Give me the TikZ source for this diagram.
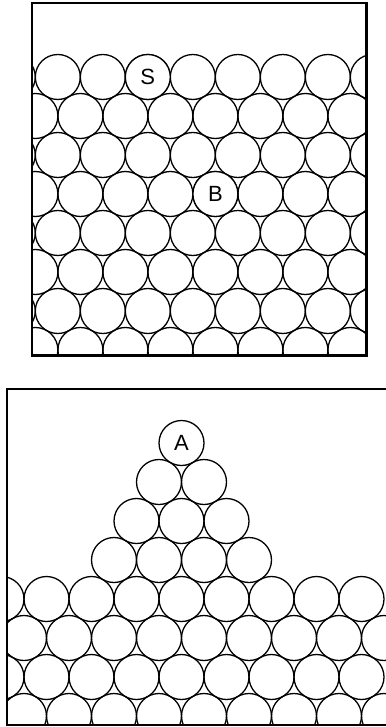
\documentclass[tikz,border=0pt]{standalone}
\usepackage{fontspec}
\newfontfamily\labfont{Liberation Sans}
\newcommand\lbl[1]{{\labfont\fontsize{22}{22}\selectfont #1}}
\begin{document}
\begin{tikzpicture}[x=1pt,y=-1pt,
  ball/.style={circle,draw=black,line width=1.3pt,minimum size=45pt,inner sep=0pt},
  frame/.style={draw=black,line width=2.1pt}]
\useasboundingbox (0,0) rectangle (385,727);
% ---------- top panel ----------
\begin{scope}
  \clip (32,3) rectangle (366.5,355.5);
  \foreach \r in {0,2,4,6}{
    \foreach \k in {0,...,8}{
      \node[ball] (t-\r-\k) at ({12.8+45*\k},{77+39*\r}) {};
    }
  }
  \foreach \r in {1,3,5,7}{
    \foreach \k in {0,...,7}{
      \node[ball] (t-\r-\k) at ({35.4+45*\k},{77+39*\r}) {};
    }
  }
  \node[ball,fill=white] (S) at (147.8,77) {\lbl{S}};
  \node[ball,fill=white] (B) at (215.4,194) {\lbl{B}};
\end{scope}
\draw[frame] (32,3) rectangle (366.5,355.5);
% ---------- bottom panel ----------
\begin{scope}
  \clip (7,389) rectangle (386,725);
  \foreach \r/\y in {0/599,2/677}{
    \foreach \k in {0,...,8}{
      \node[ball] (b-\r-\k) at ({1.5+45*\k},\y) {};
    }
  }
  \foreach \r/\y in {1/638,3/716}{
    \foreach \k in {0,...,8}{
      \node[ball] (b-\r-\k) at ({24+45*\k},\y) {};
    }
  }
  % pyramid
  \foreach \k in {0,...,3}{ \node[ball] (p4-\k) at ({114+45*\k},560) {}; }
  \foreach \k in {0,...,2}{ \node[ball] (p3-\k) at ({136.5+45*\k},521) {}; }
  \foreach \k in {0,...,1}{ \node[ball] (p2-\k) at ({159+45*\k},482) {}; }
  \node[ball] (A) at (181.5,443) {\lbl{A}};
\end{scope}
\draw[frame] (386,389) -- (7,389) -- (7,725) -- (386,725);
\end{tikzpicture}
\end{document}
